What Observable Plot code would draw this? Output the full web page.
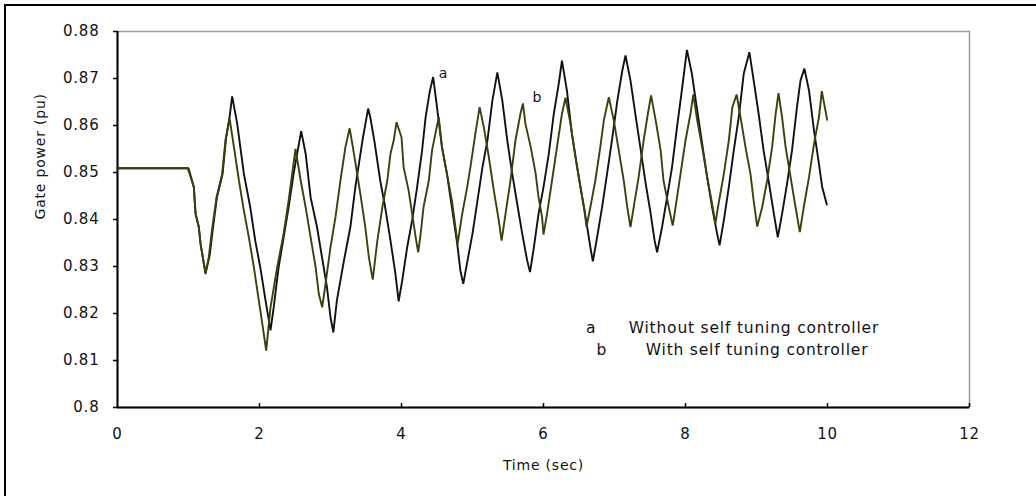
<!DOCTYPE html>
<html>
<head>
<meta charset="utf-8">
<script src="https://cdn.jsdelivr.net/npm/d3@7"></script>
<script src="https://cdn.jsdelivr.net/npm/@observablehq/plot@0.6"></script>
<style>
  html, body { margin: 0; padding: 0; background: #fff; }
  #wrap { position: relative; width: 1036px; height: 496px; overflow: hidden; }
  #border { position: absolute; left: 4px; top: 4px; width: 1100px; height: 600px;
            border-left: 2px solid #000; border-top: 2px solid #000; pointer-events: none; }
</style>
</head>
<body>
<div id="wrap"><div id="border"></div></div>
<script>
// Tick values
const xTicks = [0, 2, 4, 6, 8, 10, 12];
const yTicks = [0.80, 0.81, 0.82, 0.83, 0.84, 0.85, 0.86, 0.87, 0.88];

// Series a: without self tuning controller  [time (s), gate power (pu)]
const seriesA = [[0,0.8509],[1.0,0.8509],[1.075,0.8469],[1.10,0.8412],[1.145,0.8384],[1.17,0.8348],[1.24,0.8286],[1.30,0.8325],[1.34,0.8377],[1.40,0.8447],[1.48,0.8497],[1.53,0.8575],[1.58,0.8620],[1.615,0.8662],[1.686,0.8604],[1.78,0.8497],[1.87,0.8426],[1.94,0.8355],[2.01,0.8299],[2.085,0.8228],[2.155,0.8164],[2.20,0.8213],[2.27,0.8299],[2.34,0.8362],[2.41,0.8426],[2.48,0.8497],[2.587,0.8588],[2.65,0.8540],[2.72,0.8447],[2.81,0.8384],[2.88,0.8320],[2.95,0.8256],[3.00,0.8192],[3.04,0.8160],[3.09,0.8228],[3.19,0.8313],[3.28,0.8384],[3.35,0.8469],[3.45,0.8568],[3.53,0.8636],[3.56,0.8618],[3.62,0.8565],[3.70,0.8483],[3.77,0.8426],[3.845,0.8355],[3.915,0.8284],[3.96,0.8226],[4.01,0.8270],[4.08,0.8341],[4.15,0.8398],[4.22,0.8469],[4.29,0.8547],[4.34,0.8618],[4.40,0.8674],[4.446,0.8703],[4.50,0.8639],[4.57,0.8554],[4.64,0.8497],[4.71,0.8426],[4.785,0.8348],[4.83,0.8291],[4.87,0.8263],[4.93,0.8313],[5.00,0.8370],[5.07,0.8440],[5.14,0.8511],[5.21,0.8568],[5.28,0.8653],[5.35,0.8713],[5.42,0.8653],[5.49,0.8568],[5.56,0.8497],[5.63,0.8433],[5.70,0.8370],[5.77,0.8313],[5.81,0.8288],[5.865,0.8341],[5.93,0.8412],[6.00,0.8469],[6.075,0.8540],[6.145,0.8625],[6.215,0.8689],[6.26,0.8738],[6.33,0.8674],[6.40,0.8582],[6.475,0.8511],[6.545,0.8447],[6.615,0.8384],[6.66,0.8341],[6.695,0.8311],[6.755,0.8362],[6.825,0.8426],[6.895,0.8497],[6.97,0.8575],[7.04,0.8653],[7.11,0.8717],[7.155,0.8749],[7.225,0.8696],[7.30,0.8618],[7.37,0.8547],[7.44,0.8476],[7.51,0.8412],[7.565,0.8355],[7.60,0.8330],[7.67,0.8384],[7.74,0.8447],[7.81,0.8511],[7.88,0.8596],[7.955,0.8682],[8.02,0.8761],[8.09,0.8710],[8.165,0.8632],[8.235,0.8561],[8.305,0.8490],[8.375,0.8426],[8.445,0.8370],[8.48,0.8345],[8.54,0.8398],[8.61,0.8469],[8.68,0.8547],[8.75,0.8618],[8.82,0.8710],[8.90,0.8756],[8.96,0.8696],[9.03,0.8625],[9.10,0.8547],[9.17,0.8483],[9.245,0.8412],[9.30,0.8362],[9.36,0.8412],[9.43,0.8476],[9.50,0.8547],[9.57,0.8639],[9.62,0.8696],[9.675,0.8721],[9.74,0.8674],[9.81,0.8589],[9.88,0.8518],[9.925,0.8469],[9.99,0.8432]];

// Series b: with self tuning controller  [time (s), gate power (pu)]
const seriesB = [[0,0.8509],[0.99,0.8509],[1.075,0.8469],[1.10,0.8412],[1.145,0.8384],[1.17,0.8348],[1.24,0.8284],[1.286,0.8320],[1.33,0.8377],[1.394,0.8447],[1.474,0.8497],[1.52,0.8568],[1.58,0.8614],[1.64,0.8554],[1.71,0.8483],[1.78,0.8419],[1.85,0.8362],[1.92,0.8299],[1.99,0.8228],[2.04,0.8178],[2.094,0.8121],[2.155,0.8213],[2.25,0.8299],[2.34,0.8370],[2.41,0.8440],[2.507,0.8550],[2.58,0.8483],[2.65,0.8426],[2.72,0.8362],[2.79,0.8299],[2.835,0.8242],[2.883,0.8213],[2.93,0.8263],[3.00,0.8341],[3.07,0.8405],[3.14,0.8483],[3.21,0.8554],[3.27,0.8594],[3.33,0.8540],[3.42,0.8455],[3.49,0.8384],[3.54,0.8320],[3.595,0.8272],[3.66,0.8355],[3.73,0.8426],[3.80,0.8483],[3.845,0.8540],[3.89,0.8568],[3.93,0.8607],[4.00,0.8575],[4.03,0.8511],[4.10,0.8462],[4.15,0.8412],[4.20,0.8362],[4.235,0.8330],[4.27,0.8370],[4.31,0.8426],[4.385,0.8483],[4.43,0.8547],[4.525,0.8618],[4.57,0.8554],[4.64,0.8497],[4.71,0.8440],[4.76,0.8384],[4.79,0.8348],[4.855,0.8412],[4.925,0.8469],[4.97,0.8511],[5.04,0.8582],[5.10,0.8639],[5.16,0.8596],[5.23,0.8533],[5.30,0.8462],[5.37,0.8398],[5.41,0.8355],[5.465,0.8412],[5.535,0.8483],[5.605,0.8568],[5.675,0.8625],[5.71,0.8647],[5.745,0.8604],[5.82,0.8554],[5.89,0.8497],[5.93,0.8447],[5.98,0.8405],[6.00,0.8368],[6.05,0.8412],[6.12,0.8483],[6.19,0.8554],[6.26,0.8625],[6.31,0.8659],[6.38,0.8604],[6.45,0.8533],[6.52,0.8469],[6.58,0.8419],[6.605,0.8384],[6.66,0.8426],[6.73,0.8483],[6.80,0.8554],[6.85,0.8611],[6.92,0.8660],[6.99,0.8611],[7.06,0.8547],[7.13,0.8483],[7.18,0.8426],[7.225,0.8384],[7.27,0.8426],[7.34,0.8490],[7.41,0.8568],[7.47,0.8625],[7.515,0.8664],[7.58,0.8611],[7.65,0.8547],[7.69,0.8483],[7.765,0.8426],[7.82,0.8387],[7.86,0.8426],[7.93,0.8497],[8.00,0.8568],[8.07,0.8625],[8.11,0.8666],[8.165,0.8611],[8.235,0.8554],[8.305,0.8490],[8.375,0.8433],[8.42,0.8391],[8.465,0.8433],[8.54,0.8497],[8.61,0.8568],[8.66,0.8639],[8.72,0.8666],[8.775,0.8618],[8.845,0.8554],[8.915,0.8497],[8.96,0.8440],[9.01,0.8385],[9.08,0.8426],[9.15,0.8483],[9.22,0.8554],[9.27,0.8625],[9.31,0.8669],[9.36,0.8618],[9.41,0.8554],[9.48,0.8490],[9.55,0.8426],[9.61,0.8373],[9.665,0.8426],[9.74,0.8490],[9.81,0.8561],[9.88,0.8618],[9.92,0.8673],[9.995,0.8612]];

// Curve tags and legend text (anchored in data coordinates)
const curveTags = [{t: 4.59, v: 0.8711, s: "a"}, {t: 5.915, v: 0.8660, s: "b"}];
const legendKeys = [{t: 6.67, v: 0.8170, s: "a"}, {t: 6.82, v: 0.8123, s: "b"}];
const legendNames = [{t: 7.20, v: 0.8170, s: "Without self tuning controller"}, {t: 7.44, v: 0.8123, s: "With self tuning controller"}];

const xLabel = "Time (sec)";
const yLabel = "Gate power (pu)";

const toRows = (arr, name) => arr.map(([t, v]) => ({t, v, name}));
const rows = [...toRows(seriesA, "a"), ...toRows(seriesB, "b")];

const fmtY = d => String(+d.toFixed(2));

const chart = Plot.plot({
  width: 1036,
  height: 496,
  marginLeft: 117,
  marginRight: 67,
  marginTop: 31,
  marginBottom: 89,
  style: {fontFamily: "'DejaVu Sans', sans-serif", fontSize: "15px", color: "#111", background: "transparent", overflow: "visible"},
  x: {domain: [0, 12]},
  y: {domain: [0.8, 0.88]},
  marks: [
    Plot.frame({stroke: "#9a9a9a", strokeWidth: 1.5}),
    Plot.axisY(yTicks, {tickSize: 4, tickPadding: 14, tickFormat: fmtY, label: null, stroke: "#000", strokeWidth: 1.5, fill: "#111"}),
    Plot.axisX(xTicks, {tickSize: 0, tickPadding: 21, tickFormat: d => String(d), label: null, fill: "#111"}),
    Plot.tickX(xTicks.slice(1), {stroke: "#000", strokeWidth: 1.5, insetTop: 372}),
    Plot.ruleX([0], {stroke: "#000", strokeWidth: 2}),
    Plot.ruleY([0.8], {stroke: "#000", strokeWidth: 2}),
    Plot.line(rows, {x: "t", y: "v", z: "name", stroke: "name", strokeWidth: 1.9, strokeLinejoin: "miter"}),
    Plot.text(curveTags, {x: "t", y: "v", text: "s", fontSize: 14, fill: "#111"}),
    Plot.text(legendNames.slice(0, 1), {x: "t", y: "v", text: "s", textAnchor: "start", fontSize: 15.5, fill: "#111"}),
    Plot.text(legendKeys.slice(0, 1), {x: "t", y: "v", text: "s", fontSize: 15.5, fill: "#111"}),
    Plot.text(legendNames.slice(1), {x: "t", y: "v", text: "s", textAnchor: "start", fontSize: 15.5, fill: "#111", stroke: "white", strokeWidth: 5}),
    Plot.text(legendKeys.slice(1), {x: "t", y: "v", text: "s", fontSize: 15.5, fill: "#111", stroke: "white", strokeWidth: 5}),
    Plot.text([xLabel], {frameAnchor: "bottom", dy: 62, fontSize: 14, fill: "#111"}),
    Plot.text([yLabel], {frameAnchor: "left", dx: -77, rotate: -90, fontSize: 14, fill: "#111"})
  ],
  color: {domain: ["a", "b"], range: ["#111111", "#3f3f0e"]}
});

// letter spacing to mimic the wide original glyphs
chart.querySelectorAll("text").forEach(t => t.style.letterSpacing = "0.8px");
document.getElementById("wrap").prepend(chart);
</script>
</body>
</html>
